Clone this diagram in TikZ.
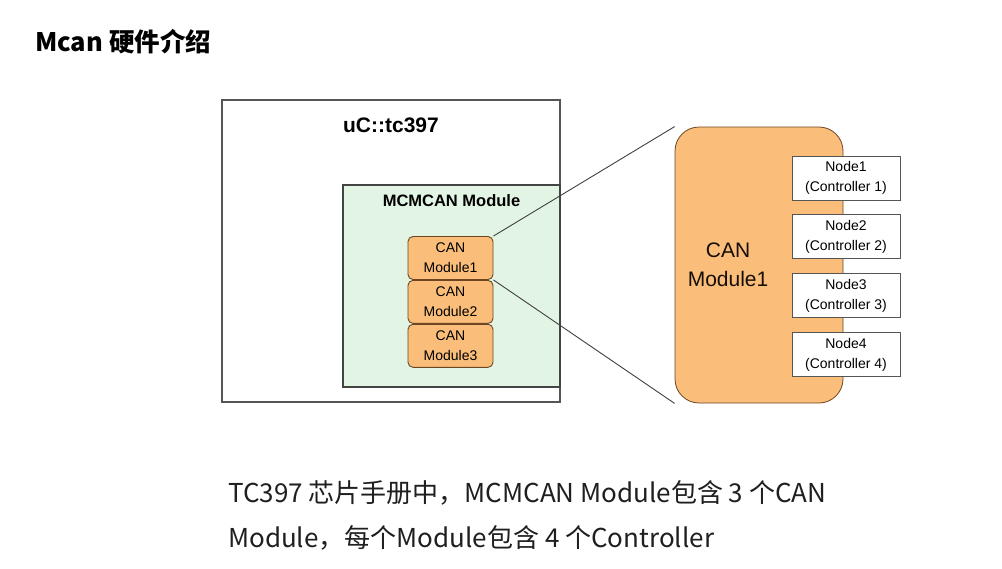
\documentclass[tikz,border=0pt]{standalone}
\usepackage{fontspec}
\setmainfont{Liberation Sans}
\newfontfamily\cjk{Noto Sans CJK SC}
\usetikzlibrary{positioning}
\definecolor{canorange}{RGB}{250,190,122}
\definecolor{canedge}{RGB}{110,70,35}
\definecolor{mcmgreen}{RGB}{226,244,228}
\definecolor{boxedge}{RGB}{85,85,85}

\begin{document}
\begin{tikzpicture}[
    x=1pt, y=-1pt,
    chip/.style={rectangle, draw=boxedge, line width=1.3pt, minimum width=338pt, minimum height=302pt, inner sep=0pt},
    mcm/.style={rectangle, draw=boxedge!80!black, fill=mcmgreen, line width=1.3pt, minimum width=217pt, minimum height=202pt, inner sep=0pt},
    canmod/.style={rectangle, rounded corners=5pt, draw=canedge, fill=canorange, line width=0.9pt, minimum width=85pt, minimum height=43pt, align=center, inner sep=0pt, font=\fontsize{14}{20}\selectfont},
    bigmod/.style={rectangle, rounded corners=24pt, draw=canedge, fill=canorange, line width=0.8pt, minimum width=168pt, minimum height=276pt},
    ctrl/.style={rectangle, draw=boxedge, fill=white, line width=0.8pt, minimum width=108pt, minimum height=44pt, align=center, inner sep=0pt, font=\fontsize{14}{20}\selectfont},
    zoomline/.style={draw=black!75, line width=0.9pt}
]
\useasboundingbox (0,0) rectangle (1002,568);

% Title
\node[anchor=base west, inner sep=0pt, font=\cjk\bfseries\fontsize{25.5}{30}\selectfont] (title) at (35,51) {Mcan 硬件介绍};

% Chip and MCMCAN
\node[chip] (uc) at (391,251) {};
\node[below=18pt of uc.north, inner sep=0pt, font=\bfseries\fontsize{21}{24}\selectfont] (ucname) {uC::tc397};
\node[mcm] (mcmcan) at (451.5,286) {};
\node[below=10pt of mcmcan.north, inner sep=0pt, font=\bfseries\fontsize{16.5}{20}\selectfont] (mcmname) {MCMCAN Module};

% CAN modules
\node[canmod] (can1) at (450.5,258) {CAN\\Module1};
\node[canmod, below=0pt of can1] (can2) {CAN\\Module2};
\node[canmod, below=0pt of can2] (can3) {CAN\\Module3};

% CAN Module1 in detail
\node[bigmod] (big) at (759,265) {};
\node[right=13pt of big.west, align=center, inner sep=0pt, text=black!80!canedge, font=\fontsize{21}{29}\selectfont] (bigname) {CAN\\Module1};

\node[ctrl] (node1) at (846,178) {Node1\\(Controller 1)};
\node[ctrl, below=14pt of node1] (node2) {Node2\\(Controller 2)};
\node[ctrl, below=14pt of node2] (node3) {Node3\\(Controller 3)};
\node[ctrl, below=14pt of node3] (node4) {Node4\\(Controller 4)};

\draw[zoomline] (can1.north east) -- (big.north west);
\draw[zoomline] (can1.south east) -- (big.south west);

% Note
\node[anchor=north west, inner sep=0pt, align=left, text=black!88, font=\cjk\fontsize{26}{45}\selectfont] (note) at (228,480) {TC397 芯片手册中，MCMCAN Module包含 3 个CAN\\Module，每个Module包含 4 个Controller};

\end{tikzpicture}
\end{document}
